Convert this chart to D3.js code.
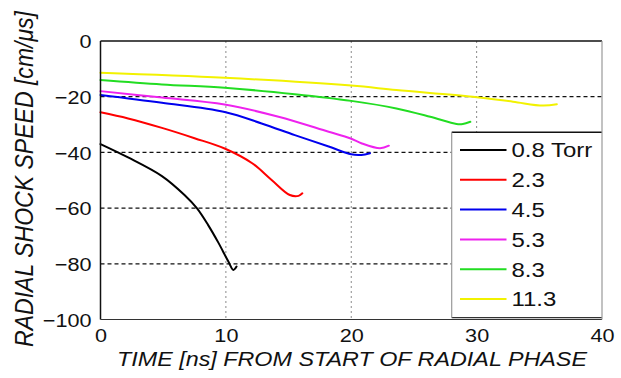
<!DOCTYPE html>
<html>
<head>
<meta charset="utf-8">
<script src="https://cdn.jsdelivr.net/npm/d3@7"></script>
<style>
  html, body { margin: 0; padding: 0; background: #fff; }
  svg { display: block; font-family: "Liberation Sans", Arial, sans-serif; }
</style>
</head>
<body>
<svg id="chart" width="621" height="378"></svg>
<script>
// Radial shock speed vs. time, one trace per fill pressure
const pressureLabels = ["0.8 Torr", "2.3", "4.5", "5.3", "8.3", "11.3"];
const seriesColors   = ["#000000", "#ff0000", "#0000ee", "#ee22ee", "#22dd22", "#f2f200"];

const time08  = [0, 2.2, 4.9, 6.7, 7.7, 8.6, 9.4, 10.2, 10.6, 10.85];
const speed08 = [-37.0, -41.8, -48.5, -55.3, -60.1, -66.2, -72.4, -79.2, -82.2, -81.0];

const time23  = [0, 2.2, 4.9, 7.5, 9.9, 12.1, 13.65, 15.1, 15.8, 16.1];
const speed23 = [-25.6, -27.8, -31.2, -34.9, -38.6, -43.9, -49.9, -55.3, -55.6, -54.7];

const time45  = [0, 4.9, 9.9, 12.85, 15.5, 18.2, 20.0, 20.8, 21.5];
const speed45 = [-19.4, -22.2, -25.5, -29.6, -33.8, -37.9, -40.7, -40.9, -40.3];

const time53  = [0, 4.9, 9.9, 14.2, 18.2, 19.9, 20.8, 22.3, 23.0];
const speed53 = [-18.0, -20.3, -22.8, -27.2, -32.6, -34.9, -36.7, -38.5, -37.6];

const time83  = [0, 4.9, 9.9, 15.5, 20.0, 23.6, 26.3, 28.4, 28.9, 29.5];
const speed83 = [-14.0, -15.6, -16.8, -19.1, -21.5, -24.2, -27.2, -29.8, -29.8, -29.0];

const time113  = [0, 9.9, 20.0, 23.6, 29.7, 32.9, 35.3, 36.4];
const speed113 = [-11.4, -13.2, -16.0, -17.6, -20.0, -21.8, -23.2, -22.7];

const xTicks = [0, 10, 20, 30, 40];
const yTicks = [-100, -80, -60, -40, -20, 0];

const timeSeries  = [time08, time23, time45, time53, time83, time113];
const speedSeries = [speed08, speed23, speed45, speed53, speed83, speed113];

const series = pressureLabels.map((label, i) => ({
  label,
  color: seriesColors[i],
  points: timeSeries[i].map((t, j) => [t, speedSeries[i][j]])
}));

const svg = d3.select("#chart");
const plotLeft = 100.5, plotRight = 602, plotTop = 41, plotBottom = 319.5;
const x = d3.scaleLinear().domain([0, 40]).range([plotLeft, plotRight]);
const y = d3.scaleLinear().domain([-100, 0]).range([plotBottom, plotTop]);

const textStretch = 1.17;

// grid: dotted grey verticals, dashed black horizontals
svg.append("g").selectAll("line")
  .data(xTicks.filter(t => t > 0 && t < 40))
  .join("line")
  .attr("x1", d => x(d)).attr("x2", d => x(d))
  .attr("y1", plotTop).attr("y2", plotBottom)
  .attr("stroke", "#8a8a8a").attr("stroke-width", 1)
  .attr("stroke-dasharray", "2,3");

svg.append("g").selectAll("line")
  .data(yTicks.filter(t => t > -100 && t < 0))
  .join("line")
  .attr("x1", plotLeft).attr("x2", plotRight)
  .attr("y1", d => y(d)).attr("y2", d => y(d))
  .attr("stroke", "#111").attr("stroke-width", 1.2)
  .attr("stroke-dasharray", "4,3");

// traces
const line = d3.line()
  .x(d => x(d[0]))
  .y(d => y(d[1]))
  .curve(d3.curveCatmullRom.alpha(0.5));

svg.append("g").selectAll("path")
  .data(series)
  .join("path")
  .attr("d", d => line(d.points))
  .attr("fill", "none")
  .attr("stroke", d => d.color)
  .attr("stroke-width", 2)
  .attr("stroke-linejoin", "round")
  .attr("stroke-linecap", "round");

// axes (labels only, box drawn separately)
const xAxis = svg.append("g")
  .attr("transform", `translate(0,${plotBottom})`)
  .call(d3.axisBottom(x).tickValues(xTicks).tickSize(0).tickFormat(d3.format("d")));
xAxis.select(".domain").remove();
xAxis.selectAll("text")
  .attr("dy", null)
  .attr("y", 23)
  .attr("fill", "#111")
  .attr("font-size", "18.5px")
  .attr("font-family", "'Liberation Sans', Arial, sans-serif")
  .attr("transform", `scale(${textStretch},1)`);

const yAxis = svg.append("g")
  .attr("transform", `translate(${plotLeft},0)`)
  .call(d3.axisLeft(y).tickValues(yTicks).tickSize(0).tickFormat(d3.format("d")));
yAxis.select(".domain").remove();
yAxis.selectAll("text")
  .attr("x", -9 / textStretch)
  .attr("dy", "0.36em")
  .attr("fill", "#111")
  .attr("font-size", "18.5px")
  .attr("font-family", "'Liberation Sans', Arial, sans-serif")
  .attr("transform", `scale(${textStretch},1)`);

// axis titles
svg.append("text")
  .attr("x", 352).attr("y", 365.5)
  .attr("text-anchor", "middle")
  .attr("font-size", "20.5px")
  .attr("font-style", "italic")
  .attr("fill", "#111")
  .attr("textLength", 470)
  .attr("lengthAdjust", "spacingAndGlyphs")
  .text("TIME [ns] FROM START OF RADIAL PHASE");

svg.append("text")
  .attr("transform", "translate(33,179) rotate(-90) scale(1,1.15)")
  .attr("text-anchor", "middle")
  .attr("font-size", "22.5px")
  .attr("font-style", "italic")
  .attr("fill", "#111")
  .attr("textLength", 336)
  .attr("lengthAdjust", "spacingAndGlyphs")
  .text("RADIAL SHOCK SPEED [cm/\u03BCs]");

// legend
const lgLeft = 451.7, lgTop = 132.3, lgBottom = 317.7;
const legend = svg.append("g");
legend.append("rect")
  .attr("x", lgLeft).attr("y", lgTop)
  .attr("width", plotRight - lgLeft).attr("height", lgBottom - lgTop)
  .attr("fill", "#fff");
legend.append("line")
  .attr("x1", lgLeft).attr("x2", plotRight).attr("y1", lgTop).attr("y2", lgTop)
  .attr("stroke", "#111").attr("stroke-width", 1.5);
legend.append("line")
  .attr("x1", lgLeft).attr("x2", plotRight).attr("y1", lgBottom).attr("y2", lgBottom)
  .attr("stroke", "#333").attr("stroke-width", 1.2);
legend.append("line")
  .attr("x1", lgLeft).attr("x2", lgLeft).attr("y1", lgTop).attr("y2", lgBottom)
  .attr("stroke", "#999").attr("stroke-width", 1.2);

const rowY = d3.scaleLinear().domain([0, series.length - 1]).range([150, 299]);
const rows = legend.selectAll("g.row")
  .data(series)
  .join("g")
  .attr("class", "row")
  .attr("transform", (d, i) => `translate(0,${rowY(i)})`);
rows.append("line")
  .attr("x1", 460).attr("x2", 506.5)
  .attr("stroke", d => d.color).attr("stroke-width", 2);
rows.append("text")
  .attr("x", 511.5 / textStretch)
  .attr("dy", "0.36em")
  .attr("font-size", "20.5px")
  .attr("fill", "#111")
  .attr("transform", `scale(${textStretch},1)`)
  .text(d => d.label);

// plot box
svg.append("line").attr("x1", plotLeft).attr("x2", plotRight).attr("y1", plotTop).attr("y2", plotTop)
  .attr("stroke", "#111").attr("stroke-width", 1.5);
svg.append("line").attr("x1", plotLeft).attr("x2", plotLeft).attr("y1", plotTop).attr("y2", plotBottom)
  .attr("stroke", "#111").attr("stroke-width", 1.5);
svg.append("line").attr("x1", plotLeft).attr("x2", plotRight).attr("y1", plotBottom).attr("y2", plotBottom)
  .attr("stroke", "#333").attr("stroke-width", 1.2);
svg.append("line").attr("x1", plotRight).attr("x2", plotRight).attr("y1", plotTop).attr("y2", plotBottom)
  .attr("stroke", "#999").attr("stroke-width", 1.2);
</script>
</body>
</html>
